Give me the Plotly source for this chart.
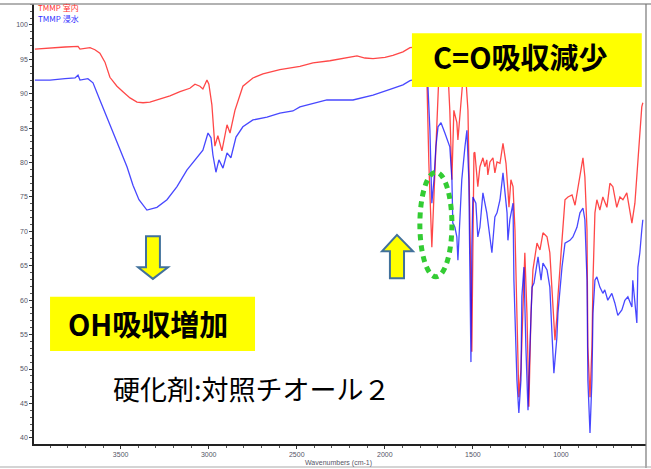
import plotly.graph_objects as go

# FT-IR transmittance spectra, TMMP cured films (dry room vs. water-immersed)
wn_room = [3987, 3901, 3816, 3742, 3731, 3674, 3646, 3618, 3589, 3561, 3521, 3487, 3447, 3407,
           3373, 3334, 3277, 3220, 3163, 3107, 3078, 3050, 3033, 3010, 2999, 2982, 2965, 2948,
           2925, 2896, 2879, 2851, 2806, 2749, 2692, 2596, 2482, 2408, 2312, 2226, 2158, 2113,
           2067, 1999, 1954, 1897, 1857, 1812, 1778, 1761, 1750, 1733, 1721, 1704, 1693, 1670,
           1642, 1631, 1619, 1608, 1591, 1585, 1574, 1557, 1540, 1528, 1517, 1511, 1506, 1500,
           1494, 1489, 1477, 1472, 1460, 1443, 1432, 1421, 1415, 1403, 1386, 1375, 1363, 1346,
           1329, 1312, 1301, 1295, 1284, 1272, 1261, 1250, 1244, 1239, 1227, 1216, 1205, 1193,
           1187, 1182, 1170, 1164, 1159, 1136, 1119, 1102, 1079, 1063, 1045, 1034, 1023, 1017,
           994, 977, 960, 937, 920, 903, 881, 875, 864, 852, 847, 835, 824, 818, 807, 796, 779,
           762, 739, 722, 705, 683, 665, 648, 626, 609, 597, 580, 563, 552, 541, 535]
t_room = [96.5, 96.7, 96.8, 96.9, 96.5, 96.7, 96.4, 95.9, 94.6, 92.4, 91.1, 90.3, 89.4, 88.8,
          88.7, 88.8, 89.2, 89.7, 90.3, 90.8, 91.4, 91.1, 90.7, 92.0, 91.4, 88.4, 82.4, 83.9,
          81.7, 85.5, 84.3, 87.6, 91.1, 92.3, 92.9, 93.5, 94.0, 94.5, 94.8, 95.2, 95.5, 95.2,
          95.1, 95.3, 95.6, 96.1, 96.7, 96.8, 96.4, 92.0, 79.9, 67.7, 75.0, 87.2, 92.7, 94.6,
          93.5, 87.6, 77.5, 87.6, 85.8, 83.3, 87.2, 92.0, 92.3, 87.6, 71.7, 60.0, 52.5, 67.3,
          81.4, 81.5, 77.5, 76.5, 79.4, 80.7, 79.4, 80.4, 78.2, 80.1, 80.7, 78.5, 80.1, 79.9,
          82.8, 79.9, 76.0, 73.5, 77.5, 76.5, 70.2, 58.1, 48.4, 45.9, 49.9, 58.1, 66.9, 58.1,
          48.4, 44.5, 58.1, 62.9, 64.4, 68.3, 67.3, 69.8, 69.2, 66.9, 58.1, 54.2, 57.6, 60.5,
          68.7, 74.6, 75.0, 75.3, 73.8, 76.5, 80.4, 80.7, 77.9, 70.2, 53.2, 45.9, 53.2, 62.9,
          72.7, 74.6, 73.1, 75.0, 73.5, 77.0, 76.5, 73.5, 75.0, 74.6, 75.6, 72.7, 71.2, 74.1,
          79.9, 84.7, 88.1, 88.7]

wn_wet = [3987, 3901, 3816, 3759, 3742, 3731, 3686, 3657, 3618, 3578, 3544, 3504, 3464, 3430,
          3396, 3351, 3294, 3237, 3180, 3124, 3067, 3033, 3004, 2987, 2976, 2959, 2942, 2919,
          2896, 2874, 2845, 2806, 2749, 2669, 2596, 2522, 2482, 2329, 2181, 2067, 1954, 1897,
          1857, 1812, 1772, 1755, 1744, 1738, 1733, 1721, 1710, 1698, 1681, 1659, 1642, 1631,
          1619, 1614, 1602, 1591, 1585, 1574, 1563, 1545, 1534, 1523, 1517, 1511, 1506, 1500,
          1483, 1472, 1460, 1443, 1421, 1403, 1392, 1375, 1363, 1346, 1329, 1306, 1301, 1290,
          1272, 1267, 1250, 1239, 1227, 1222, 1210, 1199, 1187, 1176, 1164, 1153, 1136, 1130,
          1113, 1102, 1079, 1063, 1051, 1040, 1023, 1017, 994, 977, 949, 932, 909, 892, 875,
          864, 852, 847, 835, 824, 818, 807, 796, 779, 762, 751, 734, 711, 694, 677, 654, 637,
          620, 597, 592, 580, 569, 563, 552, 541, 535]
t_wet = [92.0, 92.0, 92.2, 92.3, 92.7, 92.0, 92.2, 91.6, 89.1, 86.6, 84.3, 81.8, 79.4, 76.7,
         74.6, 73.1, 73.5, 74.6, 76.5, 78.9, 80.8, 81.8, 84.3, 83.6, 81.1, 78.6, 80.4, 79.2,
         81.4, 80.7, 83.7, 85.2, 86.2, 86.6, 87.2, 87.5, 88.1, 89.1, 89.1, 89.8, 90.8, 91.3,
         91.9, 92.2, 92.0, 91.0, 84.7, 77.5, 74.1, 77.5, 82.3, 85.2, 85.8, 84.3, 83.0, 82.3,
         77.5, 71.2, 70.6, 69.2, 65.8, 71.2, 77.5, 82.3, 84.7, 77.5, 67.3, 51.0, 67.7, 75.0,
         74.1, 69.2, 70.6, 75.6, 72.7, 68.7, 66.9, 72.1, 72.7, 74.6, 78.5, 72.7, 68.7, 71.7,
         74.1, 62.9, 48.4, 43.6, 48.4, 60.5, 64.8, 53.2, 44.0, 53.2, 61.9, 62.5, 65.8, 66.3,
         62.9, 65.4, 64.4, 61.9, 55.2, 49.4, 54.6, 58.1, 64.8, 68.3, 68.7, 69.2, 70.6, 72.7,
         73.4, 71.7, 62.9, 48.4, 40.7, 48.4, 58.1, 62.9, 63.4, 61.9, 61.0, 61.5, 60.0, 61.0,
         59.6, 57.8, 58.6, 60.0, 60.5, 59.0, 62.9, 59.0, 56.7, 64.8, 66.9, 70.2, 71.7]

x_ticks = [3500, 3000, 2500, 2000, 1500, 1000]
y_ticks = [40, 45, 50, 55, 60, 65, 70, 75, 80, 85, 90, 95, 100]
series_names = ["TMMP 室内", "TMMP 浸水"]

W, H = 651, 469
L, R, T, B = 34, 5, 4, 25
X_RANGE = [3992, 517]
Y_RANGE = [39.1, 103.05]

JP = "Noto Sans CJK JP"
RED = "rgba(255,0,0,0.72)"
BLUE = "rgba(0,0,255,0.72)"

fig = go.Figure()
fig.add_trace(go.Scatter(x=wn_room, y=t_room, mode="lines", name=series_names[0],
                         line=dict(color=RED, width=1.3)))
fig.add_trace(go.Scatter(x=wn_wet, y=t_wet, mode="lines", name=series_names[1],
                         line=dict(color=BLUE, width=1.3)))

axis_font = dict(family="Liberation Sans", size=7, color="#555566")
fig.update_layout(
    width=W, height=H,
    margin=dict(l=L, r=R, t=T, b=B),
    paper_bgcolor="white", plot_bgcolor="white",
    showlegend=False,
    xaxis=dict(range=X_RANGE, tickvals=x_ticks, ticks="outside", ticklen=3,
               tickcolor="#333", showline=True, linecolor="#222", linewidth=1.5,
               showgrid=False, zeroline=False, tickfont=axis_font,
               minor=dict(dtick=100, ticks="outside", ticklen=2, tickcolor="#555")),
    yaxis=dict(range=Y_RANGE, tickvals=y_ticks, ticks="outside", ticklen=3,
               tickcolor="#333", showline=True, linecolor="#222", linewidth=1.5,
               showgrid=False, zeroline=False, tickfont=axis_font,
               minor=dict(dtick=1, ticks="outside", ticklen=2, tickcolor="#555")),
)

pw = W - L - R
ph = H - T - B


def px_x(p):
    return (p - L) / pw


def px_y(p):
    return (H - B - p) / ph


# outer frame: top rule, right border, bottom rule
fig.add_shape(type="line", xref="paper", yref="paper", x0=px_x(0), x1=px_x(W),
              y0=px_y(4), y1=px_y(4), line=dict(color="#999", width=1.5))
fig.add_shape(type="line", xref="paper", yref="paper", x0=px_x(646), x1=px_x(646),
              y0=px_y(4), y1=px_y(468), line=dict(color="#777", width=1.2))
fig.add_shape(type="line", xref="paper", yref="paper", x0=px_x(0), x1=px_x(W),
              y0=px_y(467), y1=px_y(467), line=dict(color="#aaa", width=1.2))

# series labels in the corner
fig.add_annotation(xref="paper", yref="paper", x=px_x(36), y=px_y(7), text=series_names[0],
                   showarrow=False, xanchor="left", yanchor="middle",
                   font=dict(family=JP, size=8, color="#ff3030"))
fig.add_annotation(xref="paper", yref="paper", x=px_x(36), y=px_y(18), text=series_names[1],
                   showarrow=False, xanchor="left", yanchor="middle",
                   font=dict(family=JP, size=8, color="#3030ff"))

# x axis title
fig.add_annotation(xref="paper", yref="paper", x=px_x(338), y=px_y(463),
                   text="Wavenumbers (cm-1)", showarrow=False, yanchor="middle",
                   font=dict(family="Liberation Sans", size=7, color="#555566"))

# C=O callout
fig.add_shape(type="rect", xref="x", yref="y", x0=1846, x1=541, y0=91.0, y1=98.8,
              fillcolor="#ffff00", line=dict(width=0), layer="above")
fig.add_annotation(xref="x", yref="y", x=1230, y=95.5, text="<b>C=O吸収減少</b>",
                   showarrow=False, font=dict(family=JP, size=29, color="black"))

# OH callout
fig.add_shape(type="rect", xref="x", yref="y", x0=3901, x1=2737, y0=52.6, y1=60.5,
              fillcolor="#ffff00", line=dict(width=0), layer="above")
fig.add_annotation(xref="x", yref="y", x=3344, y=56.7, text="<b>OH吸収増加</b>",
                   showarrow=False, font=dict(family=JP, size=29, color="black"))

# block arrows
down_arrow = "M 3356,69.3 L 3277,69.3 L 3277,64.8 L 3231,64.8 L 3317,63.1 L 3401,64.8 L 3356,64.8 Z"
up_arrow = "M 1971,63.2 L 1891,63.2 L 1891,67.1 L 1840,67.1 L 1931,69.5 L 2016,67.1 L 1971,67.1 Z"
for p in (down_arrow, up_arrow):
    fig.add_shape(type="path", xref="x", yref="y", path=p, fillcolor="#ffff00",
                  line=dict(color="#41719c", width=2), layer="above")

# dotted ring around the carbonyl band
fig.add_shape(type="circle", xref="x", yref="y", x0=1801, x1=1619, y0=63.4, y1=78.6,
              line=dict(color="#33cc33", width=5, dash="6px,5px"), layer="above")

# curing agent caption
fig.add_annotation(xref="x", yref="y", x=2754, y=47.2, text="硬化剤:対照チオール２",
                   showarrow=False, font=dict(family=JP, size=27, color="black"))

fig.write_html("out.html")
